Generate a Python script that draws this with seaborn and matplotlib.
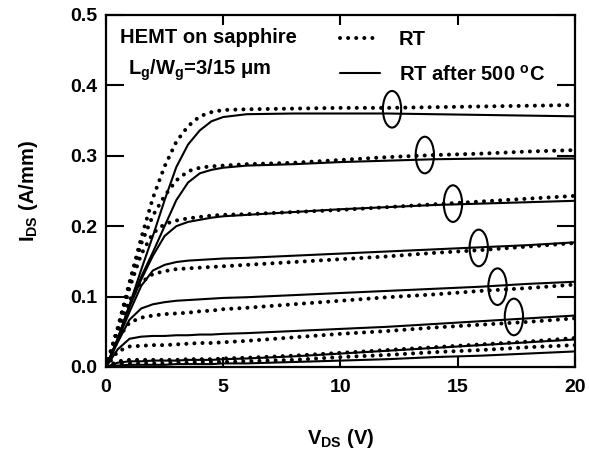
import matplotlib
matplotlib.use('Agg')
import matplotlib.pyplot as plt
from matplotlib.patches import Ellipse
from matplotlib.lines import Line2D
import seaborn as sns

# drain voltage grid (V)
vds = [0, 0.5, 1, 1.5, 2, 2.5, 3, 3.5, 4, 4.5, 5, 6, 8, 10, 12, 14, 16, 18, 20]

# RT curves (dotted), A/mm
d1 = [0, 0.055, 0.12, 0.183, 0.24, 0.285, 0.32, 0.342, 0.356, 0.362, 0.365, 0.366, 0.367, 0.368, 0.368, 0.369, 0.370, 0.371, 0.372]
d2 = [0, 0.055, 0.118, 0.175, 0.215, 0.243, 0.265, 0.278, 0.283, 0.285, 0.286, 0.288, 0.290, 0.294, 0.298, 0.301, 0.303, 0.306, 0.308]
d3 = [0, 0.053, 0.112, 0.16, 0.19, 0.203, 0.208, 0.211, 0.213, 0.215, 0.216, 0.217, 0.220, 0.223, 0.227, 0.231, 0.235, 0.239, 0.243]
d4 = [0, 0.05, 0.095, 0.12, 0.132, 0.136, 0.139, 0.140, 0.141, 0.142, 0.143, 0.145, 0.149, 0.153, 0.157, 0.162, 0.166, 0.171, 0.176]
d5 = [0, 0.04, 0.063, 0.07, 0.073, 0.075, 0.076, 0.077, 0.079, 0.08, 0.082, 0.084, 0.089, 0.094, 0.099, 0.103, 0.108, 0.112, 0.117]
d6 = [0, 0.022, 0.029, 0.030, 0.031, 0.031, 0.032, 0.033, 0.034, 0.034, 0.035, 0.037, 0.042, 0.047, 0.051, 0.056, 0.060, 0.064, 0.069]
d7 = [0, 0.008, 0.010, 0.010, 0.010, 0.010, 0.010, 0.011, 0.011, 0.011, 0.012, 0.013, 0.016, 0.020, 0.024, 0.028, 0.032, 0.036, 0.041]
d8 = [0, 0.004, 0.005, 0.005, 0.005, 0.005, 0.006, 0.006, 0.007, 0.007, 0.007, 0.008, 0.010, 0.014, 0.017, 0.021, 0.024, 0.028, 0.031]

# RT after 500 C curves (solid), A/mm
s1 = [0, 0.04, 0.088, 0.138, 0.186, 0.237, 0.284, 0.316, 0.336, 0.349, 0.355, 0.359, 0.360, 0.360, 0.360, 0.359, 0.358, 0.357, 0.356]
s2 = [0, 0.04, 0.087, 0.128, 0.163, 0.200, 0.237, 0.262, 0.275, 0.280, 0.283, 0.286, 0.288, 0.291, 0.293, 0.295, 0.296, 0.296, 0.296]
s3 = [0, 0.04, 0.085, 0.124, 0.158, 0.186, 0.200, 0.206, 0.209, 0.212, 0.214, 0.216, 0.220, 0.224, 0.227, 0.230, 0.232, 0.234, 0.236]
s4 = [0, 0.038, 0.078, 0.115, 0.137, 0.145, 0.149, 0.151, 0.152, 0.153, 0.154, 0.155, 0.158, 0.161, 0.164, 0.167, 0.170, 0.173, 0.177]
s5 = [0, 0.035, 0.067, 0.083, 0.089, 0.092, 0.094, 0.095, 0.096, 0.097, 0.098, 0.099, 0.102, 0.105, 0.108, 0.111, 0.114, 0.118, 0.121]
s6 = [0, 0.025, 0.040, 0.043, 0.044, 0.044, 0.045, 0.045, 0.046, 0.046, 0.047, 0.048, 0.051, 0.054, 0.057, 0.061, 0.065, 0.069, 0.073]
s7 = [0, 0.006, 0.008, 0.008, 0.009, 0.009, 0.009, 0.010, 0.010, 0.010, 0.011, 0.012, 0.015, 0.019, 0.023, 0.027, 0.031, 0.035, 0.039]
s8 = [0, 0.002, 0.003, 0.003, 0.003, 0.003, 0.004, 0.004, 0.004, 0.004, 0.005, 0.005, 0.007, 0.009, 0.011, 0.014, 0.016, 0.019, 0.022]

# circled pairs
ell_v = [12.2, 13.6, 14.8, 15.9, 16.7, 17.4]
ell_i = [0.366, 0.301, 0.232, 0.169, 0.114, 0.071]

sns.set_style('ticks')
plt.rcParams['font.family'] = ['Liberation Sans', 'DejaVu Sans']
plt.rcParams['font.weight'] = 'bold'
plt.rcParams['mathtext.fontset'] = 'custom'
plt.rcParams['mathtext.rm'] = 'Liberation Sans:bold'
plt.rcParams['mathtext.it'] = 'Liberation Sans:bold'
plt.rcParams['mathtext.bf'] = 'Liberation Sans:bold'
for key in ['text.color', 'axes.labelcolor', 'xtick.color', 'ytick.color', 'axes.edgecolor']:
    plt.rcParams[key] = 'black'

fig, ax = plt.subplots(figsize=(5.89, 4.53), dpi=100)
fig.subplots_adjust(left=0.18, right=0.976, top=0.967, bottom=0.19)

dot_style = dict(color='black', lw=2.9, linestyle=(0, (0.01, 2.0)), dash_capstyle='round')
solid_style = dict(color='black', lw=1.5)

for ids in [d1, d2, d3, d4, d5, d6, d7, d8]:
    sns.lineplot(x=vds, y=ids, ax=ax, errorbar=None, legend=False, **dot_style)
for ids in [s1, s2, s3, s4, s5, s6, s7, s8]:
    sns.lineplot(x=vds, y=ids, ax=ax, errorbar=None, legend=False, **solid_style)

for v, i in zip(ell_v, ell_i):
    ax.add_patch(Ellipse((v, i), width=0.78, height=0.052, fill=False,
                         edgecolor='black', lw=1.5, zorder=5))

ax.set_xlim(0, 20)
ax.set_ylim(0, 0.5)
ax.set_xticks([0, 5, 10, 15, 20])
ax.set_yticks([0.0, 0.1, 0.2, 0.3, 0.4, 0.5])
ax.set_yticklabels(['0.0', '0.1', '0.2', '0.3', '0.4', '0.5'])
ax.tick_params(axis='both', direction='in', width=1.5, labelsize=14,
               top=True, right=True)
ax.tick_params(axis='y', length=13, pad=6)
ax.tick_params(axis='x', length=7, pad=9)
for sp in ax.spines.values():
    sp.set_linewidth(1.6)
    sp.set_visible(True)

ax.set_xlabel(r'V$_{\mathrm{DS}}$ (V)', fontsize=14.5, fontweight='bold')
ax.set_ylabel(r'I$_{\mathrm{DS}}$ (A/mm)', fontsize=14.5, fontweight='bold')
ax.xaxis.set_label_coords(0.5, -0.17)
ax.yaxis.set_label_coords(-0.14, 0.5)

ax.text(0.03, 0.92, 'HEMT on sapphire', transform=ax.transAxes,
        fontsize=14.5, fontweight='bold', va='baseline')
ax.text(0.047, 0.83, r'L$_{\mathrm{g}}$/W$_{\mathrm{g}}$=3/15 μm', transform=ax.transAxes,
        fontsize=14.5, fontweight='bold', va='baseline')

handles = [Line2D([], [], **dot_style), Line2D([], [], **solid_style)]
ax.legend(handles, ['RT', r'RT after 500 $^{\mathrm{o}}$C'], loc='upper left',
          bbox_to_anchor=(0.478, 0.985), frameon=False, borderpad=0,
          handlelength=2.0, handletextpad=0.9, labelspacing=0.75,
          prop={'size': 14.5, 'weight': 'bold'})

fig.savefig('out.png', dpi=100)
